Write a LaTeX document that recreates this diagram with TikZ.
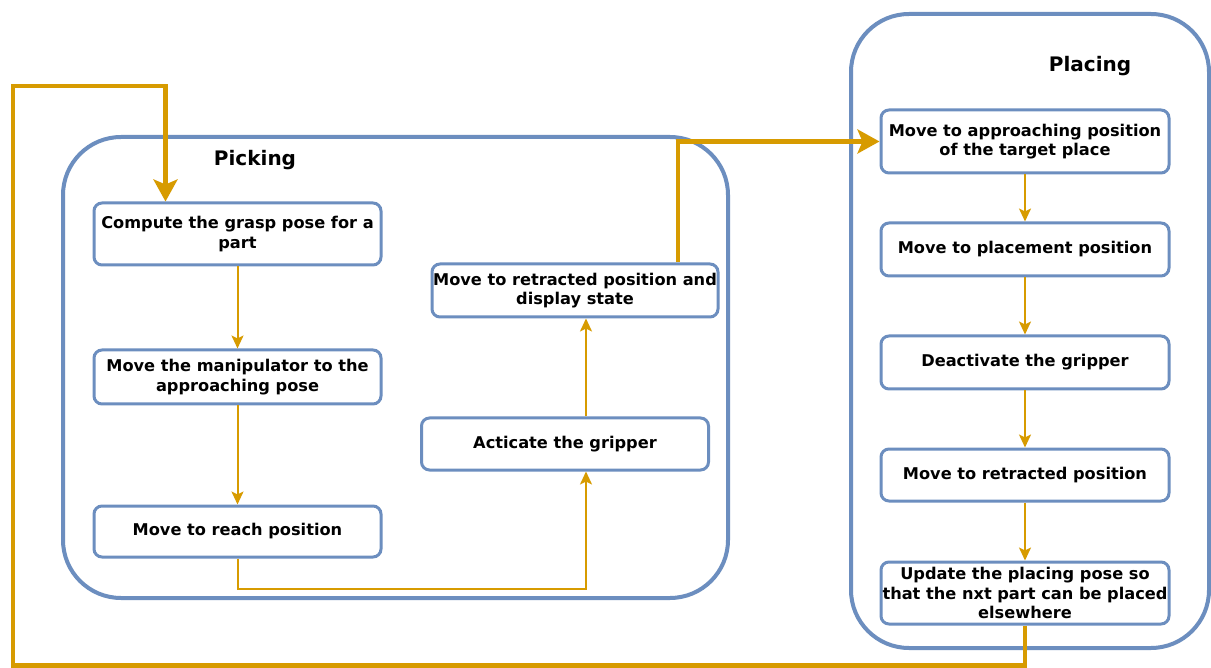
\documentclass[tikz,border=0pt]{standalone}
\usepackage{fontspec}
\setmainfont{DejaVu Sans}
\usetikzlibrary{arrows.meta}
\definecolor{bblue}{HTML}{6C8EBF}
\definecolor{orng}{HTML}{D79B00}
\tikzset{
  container/.style={draw=bblue, line width=4pt, rounded corners=58pt, fill=white, inner sep=0pt},
  stepbox/.style={draw=bblue, line width=3pt, rounded corners=8pt, fill=white, align=center,
    font=\bfseries\fontsize{16.2}{19.5}\selectfont, inner sep=1pt, minimum width=287pt},
  title/.style={font=\bfseries\fontsize{20}{23}\selectfont, inner sep=2pt},
  flow/.style={draw=orng, line width=2pt, -{Stealth[length=13pt,width=12pt,inset=3pt]}},
  bigflow/.style={draw=orng, line width=4.5pt, -{Stealth[length=22pt,width=24pt,inset=5pt]}}
}
\begin{document}
\begin{tikzpicture}[x=1pt,y=-1pt]
\useasboundingbox (0,0) rectangle (1211,668);
\fill[white] (0,0) rectangle (1211,668);
% containers
\node[container, minimum width=665pt, minimum height=461pt] (pick) at (395.5,367.5) {};
\node[container, minimum width=358pt, minimum height=634pt] (place) at (1030,331) {};
% titles
\node[title] (tpick) at (255,160) {Picking};
\node[title, fill=white] (tplace) at (1090,66) {Placing};
% picking boxes
\node[stepbox, minimum height=62pt] (A) at (237.5,234) {Compute the grasp pose for a\\part};
\node[stepbox, minimum height=54pt] (B) at (237.5,377) {Move the manipulator to the\\approaching pose};
\node[stepbox, minimum height=51pt] (C) at (237.5,531.5) {Move to reach position};
\node[stepbox, minimum height=52pt] (D) at (565,444) {Acticate the gripper};
\node[stepbox, minimum height=53pt, minimum width=286pt] (E) at (575,290.5) {Move to retracted position and\\display state};
% placing boxes
\node[stepbox, minimum height=63pt, minimum width=288pt] (P1) at (1025,141.5) {Move to approaching position\\of the target place};
\node[stepbox, minimum height=53pt, minimum width=288pt] (P2) at (1025,249.5) {Move to placement position};
\node[stepbox, minimum height=53pt, minimum width=288pt] (P3) at (1025,362.5) {Deactivate the gripper};
\node[stepbox, minimum height=52pt, minimum width=288pt] (P4) at (1025,475) {Move to retracted position};
\node[stepbox, minimum height=62pt, minimum width=288pt] (P5) at (1025,593) {Update the placing pose so\\that the nxt part can be placed\\elsewhere};
% connectors
\draw[flow] (A) -- (B);
\draw[flow] (B) -- (C);
\draw[flow] (C.south) -- ++(0,30) -| ([xshift=21pt]D.south);
\draw[flow] ([xshift=21pt]D.north) -- ([xshift=21pt]D.north |- E.south);
\draw[bigflow] ([xshift=103pt]E.north) |- (P1.west);
\draw[flow] (P1) -- (P2);
\draw[flow] (P2) -- (P3);
\draw[flow] (P3) -- (P4);
\draw[flow] (P4) -- (P5);
\coordinate (lc) at (13,86);
\draw[bigflow] (P5.south) -- ++(0,40) -| (lc) -| ([xshift=-72pt]A.north);
\end{tikzpicture}
\end{document}
